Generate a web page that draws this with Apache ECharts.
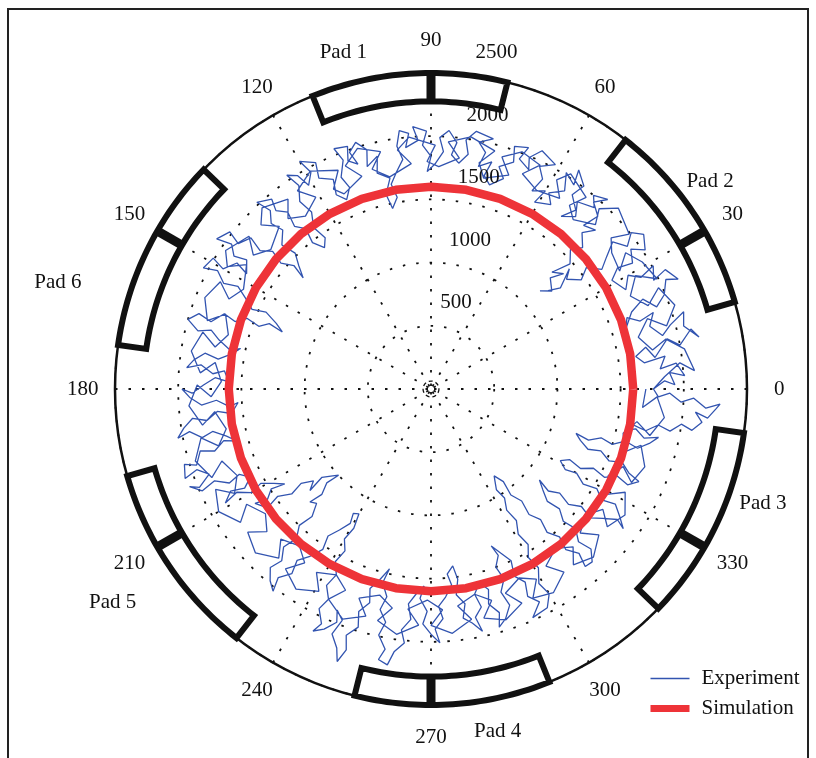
<!DOCTYPE html>
<html>
<head>
<meta charset="utf-8">
<script src="https://cdn.jsdelivr.net/npm/echarts@6/dist/echarts.min.js"></script>
<style>
html,body{margin:0;padding:0;background:#fff;}
#chart{width:816px;height:758px;}
</style>
</head>
<body>
<div id="chart"></div>
<script>
// ---------------- data ----------------
const angleTicks = [0, 30, 60, 90, 120, 150, 180, 210, 240, 270, 300, 330];
const radiusTicks = [500, 1000, 1500, 2000, 2500];
const padCenters = [90, 30, 330, 270, 210, 150];
const padNames = ['Pad 1', 'Pad 2', 'Pad 3', 'Pad 4', 'Pad 5', 'Pad 6'];

// experiment trace, [angle (deg), radius] (first lap)
const experimentLap1 = [
  [0,1760],[2,1850],[1,1930],[4,1890],[3,2010],[6,1950],[5,1820],[8,1870],[7,1700],[9,1640],[11,1730],[8,1790],[12,1910],[10,2000],[13,2110],
  [11,2160],[14,2060],[17,2090],[15,1960],[13,1880],[16,1800],[19,1860],[18,1740],[20,1650],[17,1610],[21,1700],[23,1820],[20,1900],[22,1990],[25,2050],
  [24,2140],[27,2080],[26,1960],[29,2010],[28,1880],[30,1800],[27,1730],[31,1670],[33,1760],[32,1880],[35,1930],[33,2020],[36,2080],
  [38,2010],[36,1920],[39,1850],[37,1740],[35,1650],[38,1560],[36,1470],[39,1380],[41,1450],[38,1300],[40,1210],[42,1160],[39,1230],[43,1290],[41,1390],[44,1330],[42,1480],[45,1560],[43,1640],[46,1720],
  [44,1810],[47,1770],[46,1900],[49,1960],[47,2050],[50,2000],[48,1930],[52,1880],[50,1780],[53,1710],[51,1820],[54,1900],[53,2010],[56,2090],[55,1970],[58,2020],
  [56,1890],[59,1810],[57,1740],[61,1690],[60,1810],[63,1760],[62,1880],[64,1960],[61,2030],[65,2080],[67,1990],[66,1900],[69,1950],[68,2060],[71,2030],[70,1910],
  [73,1840],[71,1760],[74,1680],[76,1740],[75,1860],[78,1800],[77,1920],[79,1990],[76,2040],[80,2070],[82,1990],[81,1880],[83,1800],[85,1860],[84,1960],
  [86,2050],[88,1990],[87,1880],[89,1780],[91,1720],[90,1840],[92,1930],[91,2040],[94,2080],[93,1970],[96,1920],[95,2030],[97,2060],[98,1940],
  [97,1830],[99,1740],[101,1650],[100,1540],[102,1460],[103,1580],[101,1700],[104,1760],[103,1890],[106,1830],[105,1960],[107,2040],[109,1980],[108,1870],[110,1920],
  [109,2030],[112,2050],[111,1940],[113,1820],[112,1720],[114,1640],[116,1710],[115,1830],[118,1890],[117,2010],[120,2080],[119,1960],[121,1880],[122,1990],
  [124,2040],[123,1920],[125,1810],[124,1690],[126,1580],[125,1460],[127,1400],[129,1490],[128,1610],[130,1680],[129,1800],[131,1870],[130,1960],[133,2020],[132,1900],[134,1820],
  [133,1720],[136,1640],[135,1520],[137,1430],[139,1340],[138,1460],[140,1550],[139,1660],[141,1740],[140,1860],[143,1910],[142,2020],[145,2070],[144,1950],[146,1880],[145,1780],[148,1720],
  [147,1830],[150,1900],[149,2010],[152,2040],[151,1930],[153,1840],[152,1730],[154,1630],[156,1550],[155,1440],[157,1330],[159,1260],[158,1380],[160,1450],[159,1560],[161,1640],
  [160,1740],[163,1820],[162,1930],[164,2000],[166,1900],[165,1800],[167,1720],[169,1620],[168,1540],[170,1600],[172,1700],[171,1810],[173,1890],[175,1940],[174,1830],
  [176,1730],[175,1640],[178,1600],[177,1710],[179,1800],[181,1890],[180,1970],[182,1910],[184,1820],[183,1700],[185,1600],[184,1530],[187,1590],[186,1700],[188,1790],[187,1900],[189,1980],
  [191,2040],[190,1940],[192,1850],[191,1760],[193,1660],[195,1590],[194,1690],[196,1780],[195,1890],[198,1950],[197,2040],[200,2070],[199,1960],[201,1880],[203,1990],
  [202,2060],[204,1980],[203,1860],[205,1760],[204,1660],[206,1590],[208,1670],[207,1780],[209,1860],[208,1740],[210,1640],[209,1540],[211,1450],[213,1380],[212,1490],[214,1560],
  [213,1660],[216,1600],[215,1480],[217,1380],[216,1270],[218,1180],[220,1250],[219,1110],[221,1050],[223,1000],[222,1110],[224,1200],[223,1310],[225,1280],[227,1380],[226,1500],[228,1590],[227,1710],
  [229,1800],[228,1900],[230,1980],[232,2030],[231,1920],[233,1830],[232,1720],[234,1640],[236,1530],[235,1420],[237,1330],[239,1240],[238,1160],[240,1140],[241,1260],[240,1370],
  [242,1450],[241,1560],[243,1650],[242,1760],[244,1850],[243,1950],[245,2050],[244,2130],[246,2080],[248,1990],[247,1900],[249,1960],[248,2090],[250,2180],[251,2280],[252,2170],
  [251,2060],[253,1970],[252,1850],[254,1760],[253,1650],[255,1560],[257,1460],[256,1580],[258,1680],[257,1790],[259,1880],[258,1990],[260,2090],[259,2180],[261,2210],[262,2100],
  [264,2020],[263,1920],[265,1830],[264,1710],[266,1620],[268,1560],[267,1660],[269,1760],[268,1860],[270,1940],[272,2010],[271,1900],[273,1820],[272,1720],[274,1650],[276,1560],
  [275,1470],[277,1410],[278,1520],[277,1640],[279,1720],[278,1830],[280,1880],[282,1960],[281,1840],[283,1770],[282,1660],[284,1580],[286,1650],[285,1760],[287,1850],[286,1960],[288,1910],
  [290,1820],[289,1700],[291,1610],[290,1500],[292,1420],[291,1330],[293,1410],[295,1500],[294,1620],[296,1700],[295,1810],[297,1890],[294,1980],[298,1960],[300,1870],[299,1760],
  [301,1650],[300,1540],[302,1450],[301,1340],[303,1240],[302,1130],[304,1040],[303,950],[305,880],[306,850],[308,930],[307,1050],[309,1140],[308,1260],[310,1350],[309,1460],[311,1550],[310,1660],[312,1750],[311,1860],[313,1870],
  [315,1790],[314,1680],[316,1590],[315,1480],[317,1390],[316,1280],[318,1190],[320,1120],[319,1230],[321,1310],[320,1420],[322,1510],[321,1620],[323,1700],[325,1800],[324,1880],
  [326,1800],[328,1720],[327,1610],[329,1530],[328,1420],[330,1330],[329,1240],[331,1170],[333,1230],[332,1340],[334,1430],[333,1540],[335,1620],[334,1730],[336,1800],[337,1700],
  [339,1620],[338,1520],[340,1430],[339,1330],[341,1250],[343,1200],[342,1310],[344,1400],[343,1500],[345,1590],[344,1700],[346,1780],[348,1840],[347,1730],[349,1650],
  [348,1570],[350,1620],[349,1730],[351,1820],[350,1920],[352,2000],[351,2090],[353,2160],[355,2100],[354,2200],[356,2260],[357,2290],[356,2180],[358,2080],[357,1980],[359,1890],[358,1800],[360,1760]
];

// second lap of the same trace
const experimentLap2 = [
  [3,1850],[6,1980],[4,2090],[9,2030],[12,1900],[10,1780],[14,1690],[18,1800],[15,1930],[19,2040],[24,1970],[21,1840],[25,1740],[29,1850],[26,1990],[31,1950],[35,1880],[32,1760],
  [37,1790],[40,1860],[38,1990],[44,2060],[47,1950],[45,1840],[50,1750],[53,1820],[51,1950],[57,2030],[59,1930],[56,1820],[62,1780],[67,1850],[64,1970],[69,2010],[73,1920],[70,1800],
  [76,1720],[78,1830],[75,1950],[81,2020],[86,1960],[83,1840],[88,1760],[91,1800],[89,1930],[95,2000],[98,1910],[95,1790],[101,1710],[105,1800],[102,1920],[107,1990],[111,1890],[108,1770],
  [114,1690],[116,1760],[113,1880],[119,1970],[124,1890],[121,1770],[126,1690],[130,1760],[127,1880],[133,1960],[136,1870],[133,1760],[139,1680],[143,1760],[140,1880],[146,1960],[149,1880],[146,1760],
  [152,1680],[156,1750],[153,1870],[158,1930],[163,1850],[160,1730],[165,1660],[169,1740],[166,1860],[171,1920],[176,1830],[173,1720],[178,1660],[182,1740],[179,1850],[184,1920],[189,1830],[186,1720],
  [191,1650],[195,1740],[192,1860],[197,1950],[202,1870],[199,1750],[204,1680],[208,1760],[205,1880],[210,1940],[215,1840],[212,1720],[217,1640],[221,1720],[218,1840],[223,1900],[228,1800],[225,1680],
  [230,1620],[234,1700],[231,1830],[236,1910],[241,1830],[238,1710],[243,1650],[247,1730],[244,1850],[249,1950],[254,1870],[251,1750],[256,1680],[260,1760],[257,1880],[262,1960],[267,1870],[264,1750],
  [269,1670],[273,1750],[270,1870],[275,1940],[280,1850],[277,1730],[282,1660],[286,1740],[283,1860],[288,1920],[293,1840],[290,1720],[295,1650],[299,1720],[296,1840],[301,1880],[306,1790],[303,1670],
  [308,1600],[312,1680],[309,1790],[314,1850],[319,1760],[316,1640],[321,1580],[325,1660],[322,1770],[327,1830],[332,1740],[329,1620],[334,1560],[338,1640],[335,1750],[340,1800],[345,1720],[342,1610],
  [347,1560],[351,1650],[348,1770],[353,1860],[358,1790],[355,1680],[360,1700]
];

const simAngle = [0,10,20,30,40,50,60,70,80,90,100,110,120,130,140,150,160,170,180,190,200,210,220,230,240,250,260,270,280,290,300,310,320,330,340,350,360];
const simRadius = [1600,1600,1600,1600,1600,1600,1600,1600,1600,1600,1600,1600,1600,1600,1600,1600,1600,1600,1600,1600,1600,1600,1600,1600,1600,1600,1600,1600,1600,1600,1600,1600,1600,1600,1600,1600,1600];

// ---------------- layout / style ----------------
const FONT = '"Liberation Serif", "Times New Roman", serif';
const FS = 21;
const L = {
  cx: 431, cy: 389, R: 316, rMax: 2500,
  angleLabelR: 2755,
  rLabelAngle: 82, rLabelOffset: 25, rLabelLift: 10,
  padIn: 2275, padOut: 2500, padLo: -14, padHi: 22,
  ringR: 63
};
const padLabelPos = [[2753,104.6],[2753,36.7],[2777,341],[2761,281],[3030,213.8],[3070,164]];

const expData = experimentLap1.concat(experimentLap2).map(p => [p[1], p[0]]);
const simData = simAngle.map((a, i) => [simRadius[i], a]);

const dotted = { color: '#111', width: 1.8, type: [2.5, 11] };

const chart = echarts.init(document.getElementById('chart'), null, { renderer: 'canvas' });

const option = {
  animation: false,
  backgroundColor: '#fff',
  polar: { center: [L.cx, L.cy], radius: L.R },
  angleAxis: {
    type: 'value', min: 0, max: 360, interval: 30,
    startAngle: 0, clockwise: false,
    axisLine: { show: true, lineStyle: { color: '#111', width: 2.5 } },
    axisTick: { show: false },
    axisLabel: { show: false },
    splitLine: { show: true, lineStyle: dotted }
  },
  radiusAxis: {
    type: 'value', min: 0, max: L.rMax, interval: 500,
    axisLine: { show: false }, axisTick: { show: false }, axisLabel: { show: false },
    splitLine: { show: true, lineStyle: dotted }
  },
  legend: {
    orient: 'vertical', left: 647, top: 668, padding: 0,
    itemWidth: 39, itemHeight: 14, itemGap: 9,
    textStyle: { fontFamily: FONT, fontSize: FS, color: '#111', padding: [0, 0, 0, 7] },
    data: [
      { name: 'Experiment', lineStyle: { width: 1.5 }, itemStyle: { opacity: 0 } },
      { name: 'Simulation', lineStyle: { width: 7 }, itemStyle: { opacity: 0 } }
    ]
  },
  graphic: [
    { type: 'polyline', shape: { points: [[8, 758], [8, 9], [808, 9], [808, 758]] },
      style: { stroke: '#222', lineWidth: 2, fill: null }, z: 100 }
  ],
  series: [
    {
      name: 'Experiment', type: 'line', coordinateSystem: 'polar',
      data: expData, symbol: 'none', showSymbol: false, clip: false,
      lineStyle: { color: '#3254b0', width: 1.3 }, itemStyle: { color: '#3254b0' },
      z: 3
    },
    {
      name: 'Simulation', type: 'line', coordinateSystem: 'polar',
      data: simData, symbol: 'none', showSymbol: false, clip: false,
      lineStyle: { color: '#ee3338', width: 8.5 }, itemStyle: { color: '#ee3338' },
      z: 4
    },
    {
      // electrode pads
      type: 'custom', coordinateSystem: 'polar', silent: true, z: 5,
      data: padCenters.map(c => [L.padOut, c]),
      renderItem: function (params, api) {
        const c = api.value(1);
        const pts = [];
        for (let a = c + L.padLo; a <= c + L.padHi + 1e-6; a += 1) pts.push(api.coord([L.padOut, a]));
        for (let a = c + L.padHi; a >= c + L.padLo - 1e-6; a -= 1) pts.push(api.coord([L.padIn, a]));
        const p1 = api.coord([L.padIn, c]);
        const p2 = api.coord([L.padOut, c]);
        return {
          type: 'group',
          children: [
            { type: 'polygon', shape: { points: pts },
              style: { fill: '#fff', stroke: '#111', lineWidth: 6, lineJoin: 'miter' } },
            { type: 'line', shape: { x1: p1[0], y1: p1[1], x2: p2[0], y2: p2[1] },
              style: { stroke: '#111', lineWidth: 9 } }
          ]
        };
      }
    },
    {
      // angle tick labels
      type: 'custom', coordinateSystem: 'polar', silent: true, z: 6,
      data: angleTicks.map(a => [L.angleLabelR, a]),
      renderItem: function (params, api) {
        const p = api.coord([api.value(0), api.value(1)]);
        return { type: 'text', style: { text: String(api.value(1)), x: p[0], y: p[1],
          align: 'center', verticalAlign: 'middle', fontFamily: FONT, fontSize: FS, fill: '#111' } };
      }
    },
    {
      // radius tick labels
      type: 'custom', coordinateSystem: 'polar', silent: true, z: 6,
      data: radiusTicks.map(v => [v, L.rLabelAngle]),
      renderItem: function (params, api) {
        const v = api.value(0);
        const p = api.coord([v + L.rLabelOffset, L.rLabelAngle]);
        return { type: 'text', style: { text: String(v), x: p[0], y: p[1] - L.rLabelLift,
          align: 'left', verticalAlign: 'bottom', fontFamily: FONT, fontSize: FS, fill: '#111' } };
      }
    },
    {
      // pad labels
      type: 'custom', coordinateSystem: 'polar', silent: true, z: 6,
      data: padLabelPos.map(p => [p[0], p[1]]),
      renderItem: function (params, api) {
        const p = api.coord([api.value(0), api.value(1)]);
        return { type: 'text', style: { text: padNames[params.dataIndex], x: p[0], y: p[1],
          align: 'center', verticalAlign: 'middle', fontFamily: FONT, fontSize: FS, fill: '#111' } };
      }
    },
    {
      // small dashed ring at the origin
      type: 'custom', coordinateSystem: 'polar', silent: true, z: 2,
      data: [[L.ringR, 0]],
      renderItem: function (params, api) {
        const o = api.coord([0, 0]);
        const p = api.coord([api.value(0), 0]);
        const r = Math.hypot(p[0] - o[0], p[1] - o[1]);
        return { type: 'circle', shape: { cx: o[0], cy: o[1], r: r },
          style: { fill: null, stroke: '#111', lineWidth: 1.3, lineDash: [4, 3] } };
      }
    }
  ]
};
chart.setOption(option);
</script>
</body>
</html>
